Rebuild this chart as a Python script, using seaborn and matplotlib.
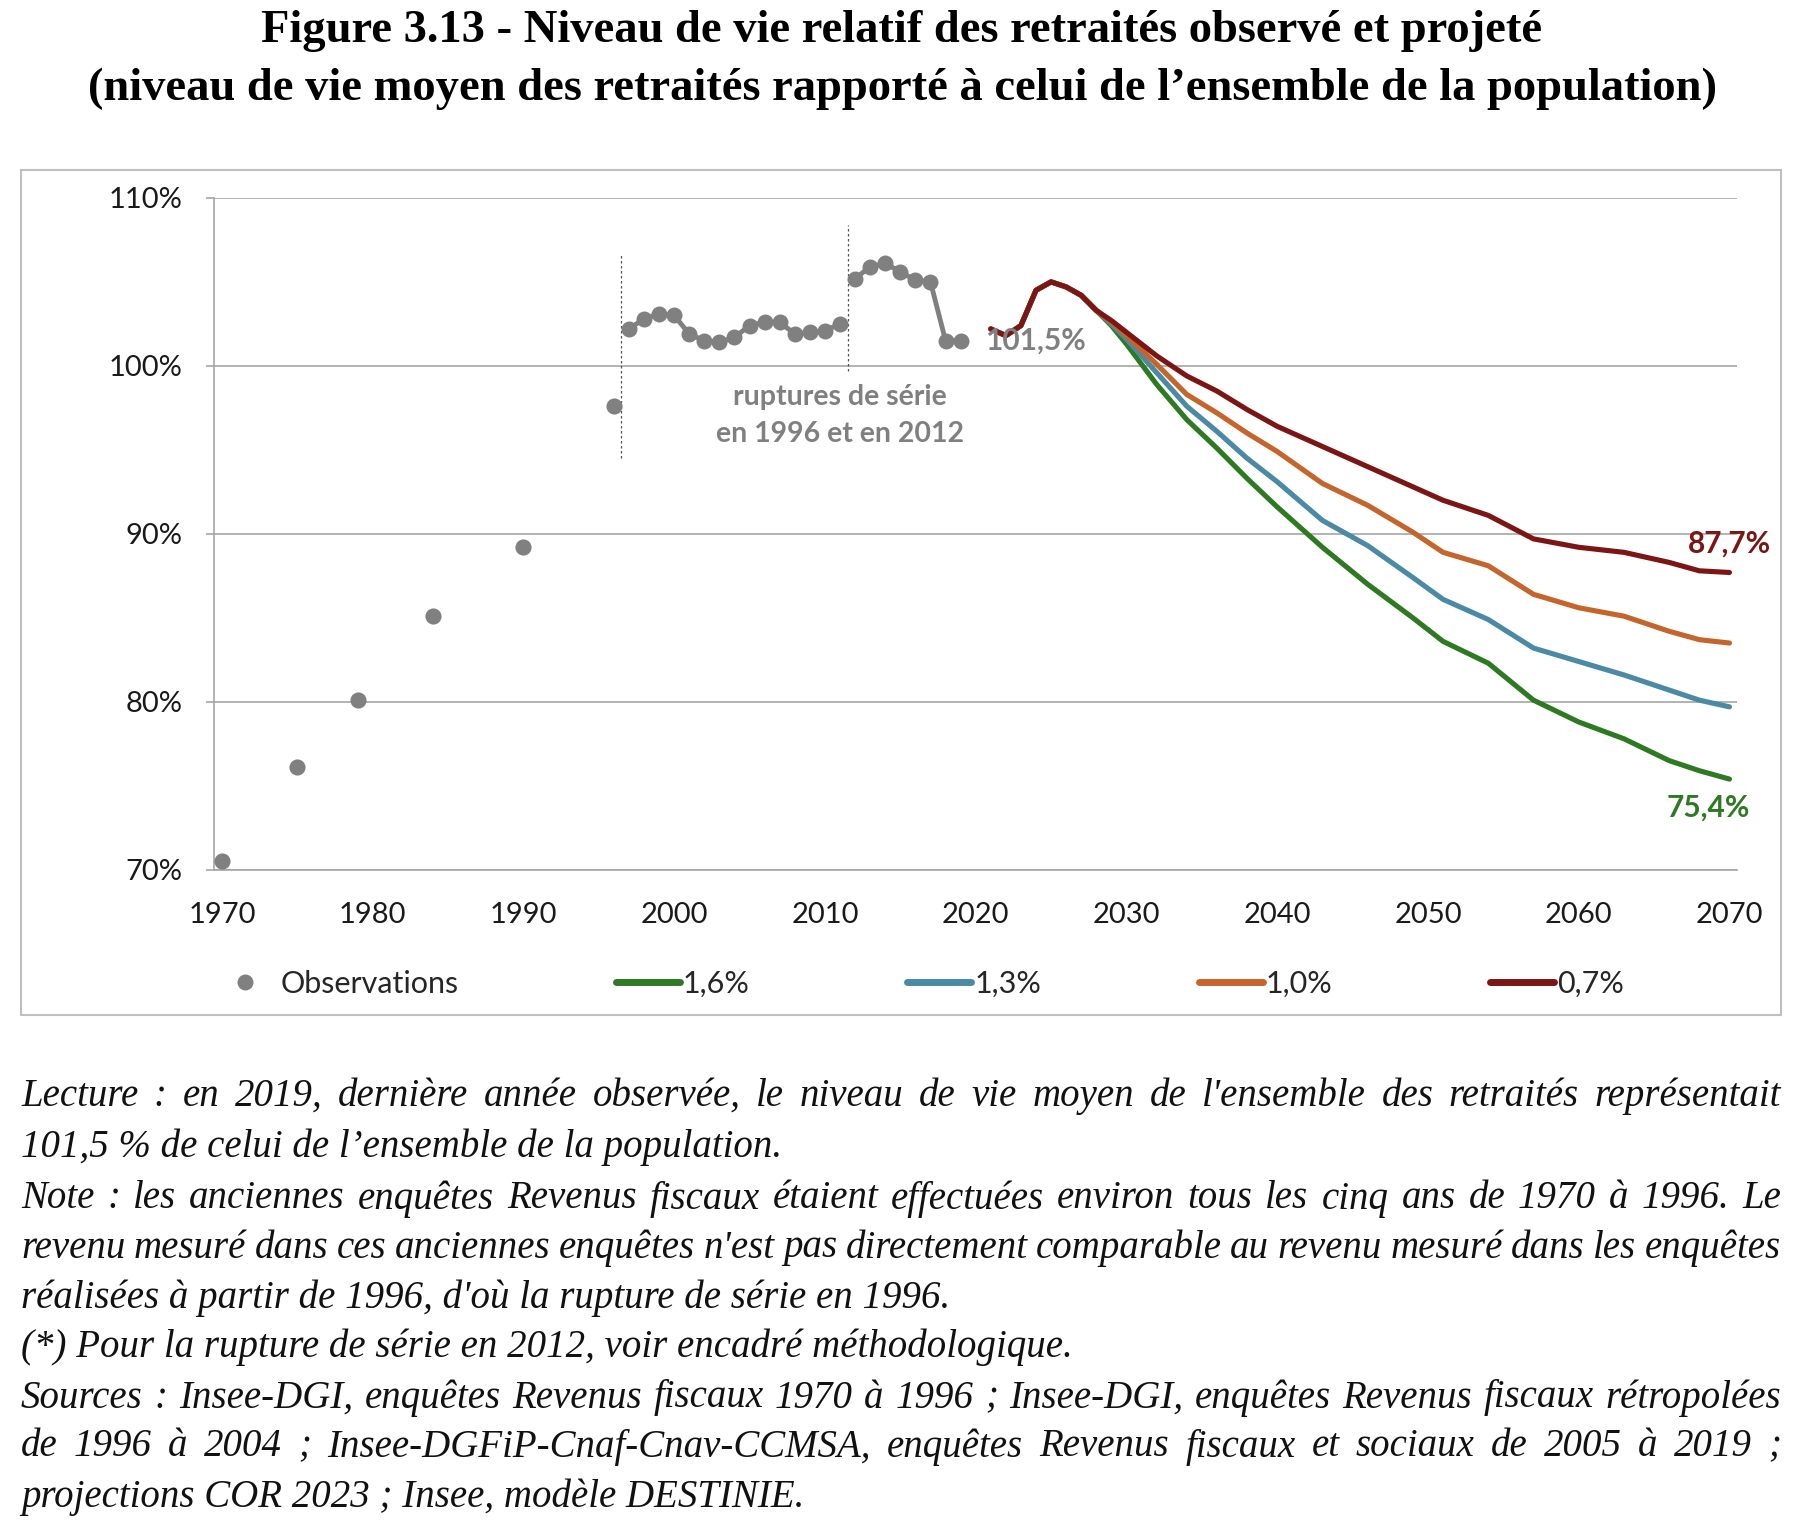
import matplotlib
matplotlib.use("Agg")
import matplotlib.pyplot as plt
import pandas as pd
import seaborn as sns
from matplotlib.lines import Line2D
from matplotlib.patches import Rectangle

# --- data ------------------------------------------------------------------
old_years = [1970, 1975, 1979, 1984, 1990, 1996]
old_values = [70.5, 76.1, 80.1, 85.1, 89.2, 97.6]

erfs_years_a = [1997, 1998, 1999, 2000, 2001, 2002, 2003, 2004,
                2005, 2006, 2007, 2008, 2009, 2010, 2011]
erfs_values_a = [102.2, 102.8, 103.1, 103.0, 101.9, 101.5, 101.4, 101.7,
                 102.4, 102.6, 102.6, 101.9, 102.0, 102.1, 102.5]
erfs_years_b = [2012, 2013, 2014, 2015, 2016, 2017, 2018, 2019]
erfs_values_b = [105.2, 105.9, 106.1, 105.6, 105.1, 105.0, 101.5, 101.5]

proj_years = [2021, 2022, 2023, 2024, 2025, 2026, 2027, 2028, 2029, 2030,
              2032, 2034, 2036, 2038, 2040, 2043, 2046, 2049, 2051, 2054,
              2057, 2060, 2063, 2066, 2068, 2070]
proj_16 = [102.2, 101.8, 102.4, 104.5, 105.0, 104.7, 104.2, 103.3, 102.4, 101.3,
           98.9, 96.8, 95.1, 93.3, 91.6, 89.2, 87.0, 85.0, 83.6, 82.3,
           80.1, 78.8, 77.8, 76.5, 75.9, 75.4]
proj_13 = [102.2, 101.8, 102.4, 104.5, 105.0, 104.7, 104.2, 103.3, 102.5, 101.6,
           99.6, 97.6, 96.1, 94.5, 93.1, 90.8, 89.3, 87.4, 86.1, 84.9,
           83.2, 82.4, 81.6, 80.7, 80.1, 79.7]
proj_10 = [102.2, 101.8, 102.4, 104.5, 105.0, 104.7, 104.2, 103.3, 102.6, 101.8,
           100.1, 98.3, 97.2, 96.0, 94.9, 93.0, 91.7, 90.1, 88.9, 88.1,
           86.4, 85.6, 85.1, 84.2, 83.7, 83.5]
proj_07 = [102.2, 101.8, 102.4, 104.5, 105.0, 104.7, 104.2, 103.3, 102.7, 102.0,
           100.6, 99.4, 98.5, 97.4, 96.4, 95.2, 94.0, 92.8, 92.0, 91.1,
           89.7, 89.2, 88.9, 88.3, 87.8, 87.7]

scenarios = ["1,6%", "1,3%", "1,0%", "0,7%"]
colors = ["#2E7A22", "#4A8AA5", "#C5652C", "#7B1615"]
gray = "#808080"

footnote = [
    ("Lecture : en 2019, dernière année observée, le niveau de vie moyen de l'ensemble des retraités représentait", True),
    ("101,5 % de celui de l’ensemble de la population.", False),
    ("Note : les anciennes enquêtes Revenus fiscaux étaient effectuées environ tous les cinq ans de 1970 à 1996. Le", True),
    ("revenu mesuré dans ces anciennes enquêtes n'est pas directement comparable au revenu mesuré dans les enquêtes", True),
    ("réalisées à partir de 1996, d'où la rupture de série en 1996.", False),
    ("(*) Pour la rupture de série en 2012, voir encadré méthodologique.", False),
    ("Sources : Insee-DGI, enquêtes Revenus fiscaux 1970 à 1996 ; Insee-DGI, enquêtes Revenus fiscaux rétropolées", True),
    ("de 1996 à 2004 ; Insee-DGFiP-Cnaf-Cnav-CCMSA, enquêtes Revenus fiscaux et sociaux de 2005 à 2019 ;", True),
    ("projections COR 2023 ; Insee, modèle DESTINIE.", False),
]

proj = pd.DataFrame({
    "year": proj_years * 4,
    "value": proj_16 + proj_13 + proj_10 + proj_07,
    "scenario": sum([[s] * len(proj_years) for s in scenarios], []),
})

# --- figure ---------------------------------------------------------------
sns.set_theme(style="white")
plt.rcParams["font.family"] = ["Lato", "DejaVu Sans"]

W, H = 1804, 1536
fig = plt.figure(figsize=(W / 100, H / 100), dpi=100)
ax = fig.add_axes([214.4 / W, 1 - 869.8 / H, (1737 - 214.4) / W, (869.8 - 197.9) / H])

fig.add_artist(Rectangle((21 / W, 1 - 1015 / H), (1781 - 21) / W, (1015 - 170) / H,
                         transform=fig.transFigure, fill=False, edgecolor="#BFBFBF", lw=1.5))

sns.scatterplot(x=old_years, y=old_values, ax=ax, color=gray, s=135, linewidth=0, zorder=3)
for xs, ys in [(erfs_years_a, erfs_values_a), (erfs_years_b, erfs_values_b)]:
    sns.lineplot(x=xs, y=ys, ax=ax, color=gray, lw=3.5, marker="o", markersize=11.5,
                 markeredgewidth=0, zorder=3)

sns.lineplot(data=proj, x="year", y="value", hue="scenario", hue_order=scenarios,
             palette=colors, lw=3.7, ax=ax, legend=False, estimator=None, sort=False, zorder=4)

# series breaks
ax.plot([1996.5, 1996.5], [94.5, 106.7], color="#555555", lw=0.9, ls=(0, (2, 2)))
ax.plot([2011.5, 2011.5], [99.7, 108.4], color="#555555", lw=0.9, ls=(0, (2, 2)))

ax.set_xlim(1969.5, 2070.5)
ax.set_ylim(70, 110)
ax.set_xticks(range(1970, 2071, 10))
ax.set_xticks([1969.5 + 5 * k for k in range(21)], minor=True)
ax.set_yticks([70, 80, 90, 100, 110])
ax.set_yticklabels([f"{v}%" for v in [70, 80, 90, 100, 110]])
ax.tick_params(axis="x", which="major", length=0, pad=23, labelsize=21, labelcolor="#1a1a1a")
ax.tick_params(axis="x", which="minor", length=8, width=1.2, color="#A6A6A6", direction="out")
ax.tick_params(axis="y", length=6, width=1.2, color="#A6A6A6", direction="out", pad=17,
               labelsize=21, labelcolor="#1a1a1a", left=True)
ax.yaxis.grid(True, color="#A6A6A6", lw=1.2)
ax.set_axisbelow(True)
for side in ["top", "right"]:
    ax.spines[side].set_visible(False)
for side in ["left", "bottom"]:
    ax.spines[side].set_color("#A6A6A6")
    ax.spines[side].set_linewidth(1.2)
ax.set_xlabel("")
ax.set_ylabel("")

ax.text(2020.6, 101.5, "101,5%", color=gray, fontsize=21.5, fontweight="bold",
        ha="left", va="center", zorder=6)
ax.text(2070, 89.4, "87,7%", color=colors[3], fontsize=21.5, fontweight="bold",
        ha="center", va="center", clip_on=False)
ax.text(2068.6, 73.7, "75,4%", color=colors[0], fontsize=21.5, fontweight="bold",
        ha="center", va="center", clip_on=False)
ax.text(2011, 97.05, "ruptures de série\nen 1996 et en 2012", color=gray, fontsize=20.5,
        fontweight="bold", ha="center", va="center", linespacing=1.55)

handles = [Line2D([], [], marker="o", color=gray, ls="none", markersize=11.5, markeredgewidth=0)]
handles += [Line2D([], [], color=c, lw=5) for c in colors]
fig.legend(handles, ["Observations"] + scenarios, loc="center left",
           bbox_to_anchor=(213 / W, 1 - 983.7 / H), ncol=5, frameon=False, fontsize=22,
           handlelength=2.1, handletextpad=0.1, columnspacing=5.15, borderpad=0, borderaxespad=0)

title_kw = dict(family="Liberation Serif", fontweight="bold", fontsize=33.5, ha="center",
                va="center", color="black")
fig.text(0.5, 1 - 31 / H, "Figure 3.13 - Niveau de vie relatif des retraités observé et projeté", **title_kw)
fig.text(0.5, 1 - 89 / H,
         "(niveau de vie moyen des retraités rapporté à celui de l’ensemble de la population)", **title_kw)

# justified footnote
fn_kw = dict(family="Liberation Serif", style="italic", fontsize=28, va="center", color="#111111")
x0, x1 = 21, 1781
line_y = [1096.5, 1147, 1199, 1248, 1298, 1347, 1398, 1447, 1497]
renderer = fig.canvas.get_renderer()
for (line, justify), ypx in zip(footnote, line_y):
    y = 1 - ypx / H
    if not justify:
        fig.text(x0 / W, y, line, **fn_kw)
        continue
    words = line.split()
    texts = [fig.text(0, y, w, **fn_kw) for w in words]
    widths = [t.get_window_extent(renderer).width for t in texts]
    gap = (x1 - x0 - sum(widths)) / (len(words) - 1)
    x = x0
    for t, w in zip(texts, widths):
        t.set_x(x / W)
        x += w + gap

fig.savefig("out.png", dpi=100)
